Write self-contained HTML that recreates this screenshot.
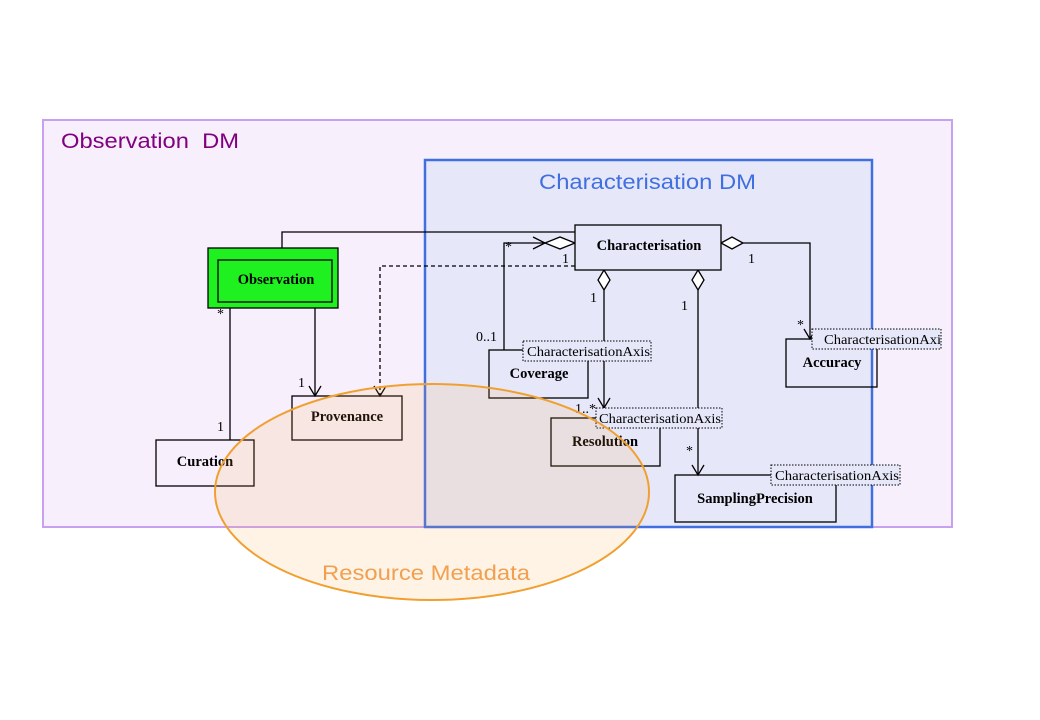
<!DOCTYPE html>
<html><head><meta charset="utf-8"><style>
html,body{margin:0;padding:0;background:#fff;}
svg{display:block;}
.n{font-family:"Liberation Serif",serif;font-weight:bold;font-size:14.5px;fill:#000;}
.t{font-family:"Liberation Serif",serif;font-size:14px;fill:#000;}
</style></head><body>
<svg width="1040" height="720" viewBox="0 0 1040 720" xmlns="http://www.w3.org/2000/svg">
<rect x="0" y="0" width="1040" height="720" fill="#fff"/>
<rect x="43" y="120" width="909" height="407" fill="#f7f0fc" stroke="#c8a0f0" stroke-width="2"/>
<text x="61" y="148" font-family="Liberation Sans, sans-serif" font-size="21" fill="#800080" textLength="178" lengthAdjust="spacingAndGlyphs">Observation&#160;&#160;DM</text>
<rect x="425" y="160" width="447" height="367" fill="#e6e8fa" stroke="#4070e0" stroke-width="2.5"/>
<text x="539" y="189" font-family="Liberation Sans, sans-serif" font-size="21" fill="#4070e0" textLength="217" lengthAdjust="spacingAndGlyphs">Characterisation DM</text>

<g stroke="#000" stroke-width="1.3" fill="none">
<polyline points="282,248 282,232 575,232"/>
<polyline points="504,350 504,243 545,243"/>
<polygon points="545,243 560,237 575,243 560,249" fill="#fff"/>
<polyline points="533,237 545,243 533,249"/>
<polyline points="575,266 380,266 380,396" stroke-dasharray="4,3"/>
<polyline points="374,386 380,396 386,386"/>
<line x1="315" y1="302" x2="315" y2="396"/>
<polyline points="309,386 315,396 321,386"/>
<line x1="230" y1="308" x2="230" y2="440"/>
<polygon points="604,270 610,280 604,290 598,280" fill="#fff"/>
<line x1="604" y1="290" x2="604" y2="408"/>
<polyline points="598,398 604,408 610,398"/>
<polygon points="698,270 704,280 698,290 692,280" fill="#fff"/>
<line x1="698" y1="290" x2="698" y2="475"/>
<polyline points="692,465 698,475 704,465"/>
<polygon points="721,243 732,237 743,243 732,249" fill="#fff"/>
<polyline points="743,243 810,243 810,339"/>
<polyline points="804,329 810,339 816,329"/>
</g>

<rect x="208" y="248" width="130" height="60" fill="#1ff01f" stroke="#000" stroke-width="1.3"/>
<rect x="218" y="260" width="114" height="42" fill="#1ff01f" stroke="#000" stroke-width="1.3"/>
<text class="n" x="276" y="284" text-anchor="middle">Observation</text>
<rect x="575" y="225" width="146" height="45" fill="#e6e8fa" stroke="#000" stroke-width="1.3"/>
<text class="n" x="649" y="250" text-anchor="middle">Characterisation</text>
<rect x="292" y="396" width="110" height="44" fill="none" stroke="#000" stroke-width="1.3"/>
<text class="n" x="347" y="421" text-anchor="middle">Provenance</text>
<rect x="156" y="440" width="98" height="46" fill="none" stroke="#000" stroke-width="1.3"/>
<text class="n" x="205" y="466" text-anchor="middle">Curation</text>
<rect x="489" y="350" width="99" height="48" fill="none" stroke="#000" stroke-width="1.3"/>
<text class="n" x="539" y="378" text-anchor="middle">Coverage</text>
<rect x="551" y="418" width="109" height="48" fill="none" stroke="#000" stroke-width="1.3"/>
<text class="n" x="605" y="446" text-anchor="middle">Resolution</text>
<rect x="786" y="339" width="91" height="48" fill="none" stroke="#000" stroke-width="1.3"/>
<text class="n" x="832" y="367" text-anchor="middle">Accuracy</text>
<rect x="675" y="475" width="161" height="47" fill="none" stroke="#000" stroke-width="1.3"/>
<text class="n" x="755" y="503" text-anchor="middle">SamplingPrecision</text>

<g stroke="#000" stroke-width="1" stroke-dasharray="1.5,1.5">
<rect x="523" y="341" width="128" height="20" fill="#e6e8fa"/>
<rect x="596" y="408" width="126" height="20" fill="#e6e8fa"/>
<rect x="812" y="329" width="129" height="20" fill="#e6e8fa"/>
<rect x="771" y="465" width="129" height="20" fill="#e6e8fa"/>
</g>
<text class="t" x="527" y="356" textLength="123" lengthAdjust="spacingAndGlyphs">CharacterisationAxis</text>
<text class="t" x="599" y="423" textLength="122" lengthAdjust="spacingAndGlyphs">CharacterisationAxis</text>
<text class="t" x="824" y="344" textLength="117" lengthAdjust="spacingAndGlyphs">CharacterisationAxi</text>
<text class="t" x="775" y="480" textLength="124" lengthAdjust="spacingAndGlyphs">CharacterisationAxis</text>

<text class="t" x="505" y="251">*</text>
<text class="t" x="562" y="263">1</text>
<text class="t" x="476" y="341">0..1</text>
<text class="t" x="298" y="387">1</text>
<text class="t" x="217" y="318">*</text>
<text class="t" x="217" y="431">1</text>
<text class="t" x="590" y="302">1</text>
<text class="t" x="575" y="413">1..*</text>
<text class="t" x="681" y="310">1</text>
<text class="t" x="686" y="455">*</text>
<text class="t" x="748" y="263">1</text>
<text class="t" x="797" y="329">*</text>

<ellipse cx="432" cy="492" rx="217" ry="108" fill="rgba(255,160,60,0.13)" stroke="#f0a030" stroke-width="2"/>
<text x="322" y="580" font-family="Liberation Sans, sans-serif" font-size="21" fill="#f0a050" textLength="208" lengthAdjust="spacingAndGlyphs">Resource Metadata</text>
</svg>
</body></html>
